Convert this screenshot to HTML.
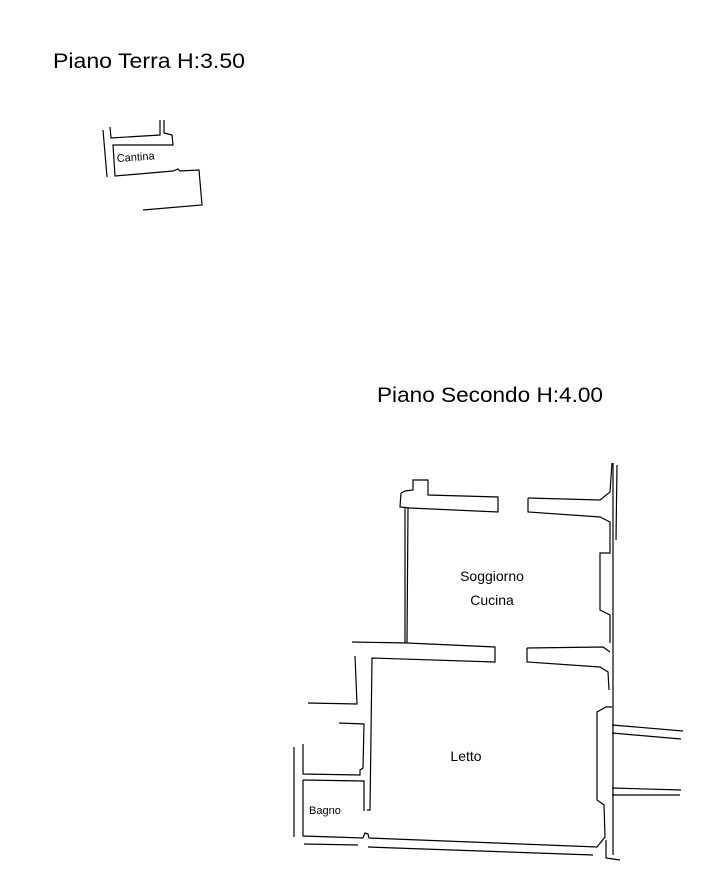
<!DOCTYPE html><html><head><style>body{margin:0;background:#fff}svg{display:block}</style></head><body>
<svg width="712" height="888" viewBox="0 0 712 888" xmlns="http://www.w3.org/2000/svg" font-family="Liberation Sans, Arial, sans-serif">
<g fill="none" stroke="#000" stroke-width="1.2">
<!-- Cantina -->
<polyline points="103,130 107,177"/>
<polyline points="110,127 111,138 160,135 160,120"/>
<polyline points="164,120 164,133 172,135 173,145 113,145 115,176 173,171 178,169 180,171 199,170 202,205 143,210"/>
<!-- Second floor -->
<polyline points="401,493 400,507 410,508 498,512 498,497 428,495 428,480 413,480 413,490 405,491 401,493"/>
<polyline points="528,498 528,512 600,517 610,522 610,553 600,553 600,610 610,615 610,643"/>
<polyline points="528,498 600,500 610,492 612,463"/>
<polyline points="613,463 613,855"/>
<polyline points="617,465 616,540"/>
<polyline points="405,508 405,643"/>
<polyline points="408,508 407,643"/>
<polyline points="352,642 407,643 495,647 495,662 372,658 370,810 367,810"/>
<polyline points="355,656 357,704 308,703"/>
<polyline points="339,723 364,724 363,768 360,770 360,775 303,774 303,744"/>
<polyline points="303,780 364,781 364,811"/>
<polyline points="303,780 303,836 363,838 365,833 368,834 369,838 597,847 605,837 604,805 597,800 597,712 606,707 612,707"/>
<polyline points="304,844 358,845"/>
<polyline points="368,847 593,855"/>
<polyline points="294,747 294,837"/>
<polyline points="527,648 603,647 610,652"/>
<polyline points="527,648 527,662 600,667 608,672 609,690"/>
<polyline points="612,725 683,731"/>
<polyline points="612,733 681,739"/>
<polyline points="612,788 681,790"/>
<polyline points="612,795 680,795"/>
<polyline points="606,840 606,858 620,860"/>
</g>
<g fill="#000">
<text x="53" y="68" font-size="21.5" textLength="192" lengthAdjust="spacingAndGlyphs">Piano Terra H:3.50</text>
<text x="377" y="402" font-size="21.5" textLength="226" lengthAdjust="spacingAndGlyphs">Piano Secondo H:4.00</text>
<text x="117" y="162" font-size="11" transform="rotate(-4 117 162)">Cantina</text>
<text x="492" y="581" font-size="14" text-anchor="middle">Soggiorno</text>
<text x="492" y="605" font-size="14" text-anchor="middle">Cucina</text>
<text x="466" y="761" font-size="14" text-anchor="middle">Letto</text>
<text x="309" y="814" font-size="11">Bagno</text>
</g>
</svg></body></html>
